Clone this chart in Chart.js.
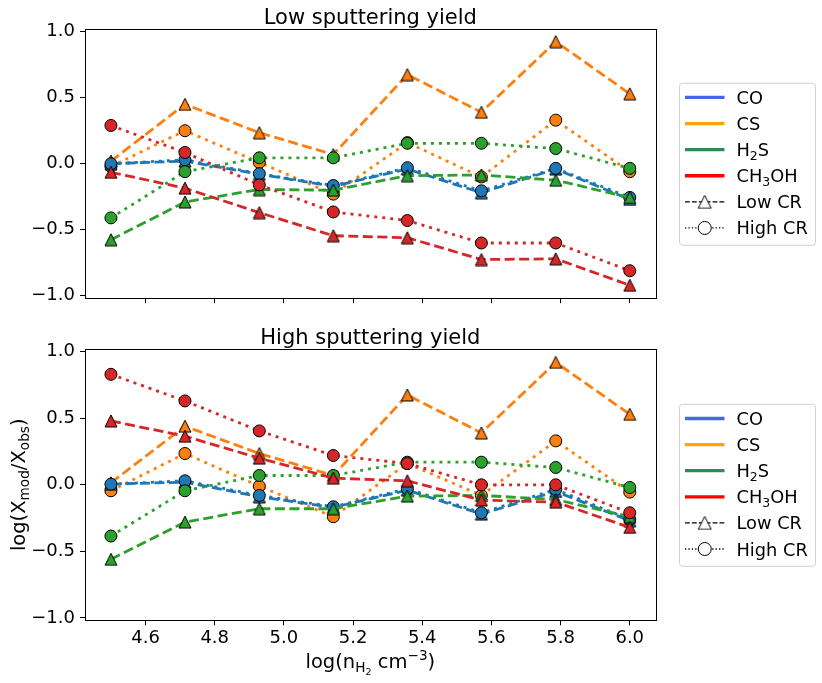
<!DOCTYPE html>
<html>
<head>
<meta charset="utf-8">
<script src="https://cdn.jsdelivr.net/npm/chart.js@4.4.0/dist/chart.umd.min.js"></script>
<style>
  body { margin: 0; background: #fff; }
  #top { position: absolute; left: 0; top: 0; width: 822px; height: 314px; }
  #bot { position: absolute; left: 0; top: 314px; width: 822px; height: 369px; }
</style>
</head>
<body>
<div id="top"><canvas id="c1"></canvas></div>
<div id="bot"><canvas id="c2"></canvas></div>
<script>
// log(n_H2 cm^-3) grid
var density = [4.5, 4.714, 4.929, 5.143, 5.357, 5.571, 5.786, 6.0];
var xTicks = [4.6, 4.8, 5.0, 5.2, 5.4, 5.6, 5.8, 6.0];
var yTicks = [-1.0, -0.5, 0.0, 0.5, 1.0];

// Low sputtering yield
var lowSp_CO_lowCR    = [0.0, 0.02, -0.08, -0.17, -0.04, -0.22, -0.04, -0.27];
var lowSp_CO_highCR   = [0.0, 0.03, -0.075, -0.165, -0.03, -0.205, -0.035, -0.255];
var lowSp_CS_lowCR    = [0.02, 0.45, 0.235, 0.07, 0.675, 0.39, 0.925, 0.53];
var lowSp_CS_highCR   = [-0.02, 0.25, 0.01, -0.23, 0.16, -0.10, 0.33, -0.06];
var lowSp_H2S_lowCR   = [-0.575, -0.29, -0.195, -0.2, -0.09, -0.085, -0.125, -0.255];
var lowSp_H2S_highCR  = [-0.41, -0.06, 0.045, 0.045, 0.155, 0.155, 0.115, -0.035];
var lowSp_MeOH_lowCR  = [-0.065, -0.185, -0.37, -0.545, -0.56, -0.725, -0.72, -0.92];
var lowSp_MeOH_highCR = [0.29, 0.085, -0.16, -0.365, -0.43, -0.6, -0.6, -0.81];

// High sputtering yield
var highSp_CO_lowCR    = [0.005, 0.02, -0.09, -0.17, -0.04, -0.22, -0.05, -0.27];
var highSp_CO_highCR   = [0.005, 0.03, -0.08, -0.165, -0.03, -0.21, -0.035, -0.26];
var highSp_CS_lowCR    = [0.015, 0.44, 0.235, 0.07, 0.675, 0.39, 0.92, 0.53];
var highSp_CS_highCR   = [-0.045, 0.235, -0.01, -0.24, 0.16, -0.08, 0.33, -0.055];
var highSp_H2S_lowCR   = [-0.56, -0.28, -0.18, -0.18, -0.085, -0.08, -0.11, -0.24];
var highSp_H2S_highCR  = [-0.385, -0.045, 0.07, 0.07, 0.17, 0.17, 0.13, -0.02];
var highSp_MeOH_lowCR  = [0.48, 0.365, 0.2, 0.05, 0.03, -0.115, -0.13, -0.32];
var highSp_MeOH_highCR = [0.83, 0.63, 0.405, 0.22, 0.16, 0.0, 0.0, -0.21];

var FONT = 'DejaVu Sans';

// plotted in this order (later on top)
var lowSpSeries = [
  ['#ff7f0e', lowSp_CS_lowCR, 'low'],   ['#ff7f0e', lowSp_CS_highCR, 'high'],
  ['#1f77b4', lowSp_CO_lowCR, 'low'],   ['#1f77b4', lowSp_CO_highCR, 'high'],
  ['#2ca02c', lowSp_H2S_lowCR, 'low'],  ['#2ca02c', lowSp_H2S_highCR, 'high'],
  ['#d62728', lowSp_MeOH_lowCR, 'low'], ['#d62728', lowSp_MeOH_highCR, 'high']
];
var highSpSeries = [
  ['#ff7f0e', highSp_CS_lowCR, 'low'],   ['#ff7f0e', highSp_CS_highCR, 'high'],
  ['#1f77b4', highSp_CO_lowCR, 'low'],   ['#1f77b4', highSp_CO_highCR, 'high'],
  ['#2ca02c', highSp_H2S_lowCR, 'low'],  ['#2ca02c', highSp_H2S_highCR, 'high'],
  ['#d62728', highSp_MeOH_lowCR, 'low'], ['#d62728', highSp_MeOH_highCR, 'high']
];

var legendColors = ['#4169e1', '#ffa500', '#2e8b57', '#ff0000'];
var legendLabels = [
  [['CO', 0]],
  [['CS', 0]],
  [['H', 0], ['2', -1], ['S', 0]],
  [['CH', 0], ['3', -1], ['OH', 0]]
];

// matplotlib style triangle marker as an image
function triangleMarker(fill, size) {
  var c = document.createElement('canvas');
  var s = Math.ceil(size + 2);
  c.width = s; c.height = s;
  var g = c.getContext('2d');
  var h = size / 2, m = s / 2;
  g.beginPath();
  g.moveTo(m, m - h);
  g.lineTo(m - h, m + h);
  g.lineTo(m + h, m + h);
  g.closePath();
  g.fillStyle = fill; g.fill();
  g.lineWidth = 1; g.strokeStyle = '#000'; g.lineJoin = 'miter'; g.stroke();
  return c;
}

function buildDatasets(series) {
  var n = series.length;
  return series.map(function (s, i) {
    var low = s[2] === 'low';
    return {
      data: density.map(function (x, k) { return { x: x, y: s[1][k] }; }),
      borderColor: s[0],
      backgroundColor: s[0],
      borderWidth: 2.8,
      borderDash: low ? [10, 4.5] : [3, 5],
      borderCapStyle: 'butt',
      pointStyle: low ? triangleMarker(s[0], 12) : 'circle',
      pointRadius: 6,
      pointBackgroundColor: s[0],
      pointBorderColor: '#000',
      pointBorderWidth: 1,
      tension: 0,
      fill: false,
      order: n - i
    };
  });
}

function fontFor(level, size) {
  var f = level === 0 ? 1 : (level === -2 ? 0.49 : 0.7);
  return (size * f) + 'px "' + FONT + '"';
}
function shiftFor(level, size) {
  if (level === -1) return 0.2 * size;
  if (level === -2) return 0.36 * size;
  if (level === 1) return -0.42 * size;
  return 0;
}
function richText(ctx, parts, x, y, size, align) {
  var widths = [], total = 0;
  parts.forEach(function (p) {
    ctx.font = fontFor(p[1], size);
    var w = ctx.measureText(p[0]).width;
    widths.push(w); total += w;
  });
  var cx = align === 'center' ? x - total / 2 : x;
  ctx.textAlign = 'left';
  ctx.textBaseline = 'alphabetic';
  parts.forEach(function (p, i) {
    ctx.font = fontFor(p[1], size);
    ctx.fillText(p[0], cx, y + shiftFor(p[1], size));
    cx += widths[i];
  });
}

function drawLegend(ctx, area) {
  var left = 679, width = 136, height = 162;
  var top = (area.top + area.bottom) / 2 - height / 2;
  ctx.save();
  ctx.beginPath();
  if (ctx.roundRect) ctx.roundRect(left + 0.5, top + 0.5, width, height, 3);
  else ctx.rect(left + 0.5, top + 0.5, width, height);
  ctx.fillStyle = 'rgba(255,255,255,0.8)';
  ctx.fill();
  ctx.strokeStyle = '#d0d0d0';
  ctx.lineWidth = 1;
  ctx.stroke();

  var x0 = 685, x1 = 724.5, tx = 736.5;
  for (var i = 0; i < 6; i++) {
    var cy = top + 14.7 + i * 26.1;
    if (i < 4) {
      ctx.beginPath();
      ctx.setLineDash([]);
      ctx.strokeStyle = legendColors[i];
      ctx.lineWidth = 3.3;
      ctx.moveTo(x0, cy); ctx.lineTo(x1, cy);
      ctx.stroke();
      ctx.fillStyle = '#000';
      richText(ctx, legendLabels[i], tx, cy + 6.5, 17.8, 'left');
    } else {
      var lowCR = i === 4;
      ctx.beginPath();
      ctx.setLineDash(lowCR ? [4.8, 2.1] : [1.3, 2.1]);
      ctx.strokeStyle = '#000';
      ctx.lineWidth = 1.3;
      ctx.moveTo(x0, cy); ctx.lineTo(x1, cy);
      ctx.stroke();
      ctx.setLineDash([]);
      var mx = (x0 + x1) / 2;
      if (lowCR) {
        ctx.drawImage(triangleMarker('#fff', 13), mx - 7.5, cy - 7.5);
      } else {
        ctx.beginPath();
        ctx.arc(mx, cy, 6.5, 0, Math.PI * 2);
        ctx.fillStyle = '#fff'; ctx.fill();
        ctx.lineWidth = 1; ctx.strokeStyle = '#000'; ctx.stroke();
      }
      ctx.fillStyle = '#000';
      richText(ctx, [[lowCR ? 'Low CR' : 'High CR', 0]], tx, cy + 6.5, 17.8, 'left');
    }
  }
  ctx.restore();
}

function decorPlugin(title, bottomPanel) {
  return {
    id: 'decor',
    afterDraw: function (chart) {
      var ctx = chart.ctx, a = chart.chartArea;
      ctx.save();
      // full frame
      ctx.strokeStyle = '#000';
      ctx.lineWidth = 1;
      ctx.strokeRect(Math.round(a.left) + 0.5, Math.round(a.top) + 0.5,
                     Math.round(a.right - a.left), Math.round(a.bottom - a.top));
      // title
      ctx.fillStyle = '#000';
      richText(ctx, [[title, 0]], (a.left + a.right) / 2, a.top - 5.5, 21, 'center');
      if (bottomPanel) {
        richText(ctx, [['log(n', 0], ['H', -1], ['2', -2], [' cm', 0], ['\u22123', 1], [')', 0]],
                 (a.left + a.right) / 2, 354, 19.5, 'center');
        ctx.save();
        ctx.translate(25, (a.top + a.bottom) / 2);
        ctx.rotate(-Math.PI / 2);
        richText(ctx, [['log(X', 0], ['mod', -1], ['/X', 0], ['obs', -1], [')', 0]], 0, 0, 19.5, 'center');
        ctx.restore();
      }
      ctx.restore();
      drawLegend(ctx, a);
    }
  };
}

function makeChart(id, title, series, bottomPanel) {
  var ctx = document.getElementById(id).getContext('2d');
  return new Chart(ctx, {
    type: 'line',
    data: { datasets: buildDatasets(series) },
    options: {
      responsive: true,
      maintainAspectRatio: false,
      animation: false,
      layout: { padding: { left: 0, right: 822 - 655.7, top: bottomPanel ? 35.3 : 29.3, bottom: 0 } },
      plugins: { legend: { display: false }, tooltip: { enabled: false } },
      scales: {
        x: {
          type: 'linear',
          min: 4.425,
          max: 6.075,
          afterBuildTicks: function (s) { s.ticks = xTicks.map(function (v) { return { value: v }; }); },
          afterFit: function (s) { s.height = bottomPanel ? 62.7 : 12.6; },
          ticks: {
            display: bottomPanel,
            color: '#000',
            padding: 2,
            maxRotation: 0,
            font: { family: FONT, size: 18 },
            callback: function (v) { return v.toFixed(1); }
          },
          grid: { drawOnChartArea: false, drawTicks: true, tickLength: 5, color: '#000', tickWidth: 1 },
          border: { display: false }
        },
        y: {
          type: 'linear',
          min: -1.018,
          max: 1.018,
          afterBuildTicks: function (s) { s.ticks = yTicks.map(function (v) { return { value: v }; }); },
          afterFit: function (s) { s.width = 85; },
          ticks: {
            color: '#000',
            padding: 5,
            font: { family: FONT, size: 18 },
            callback: function (v) { return (v < 0 ? '\u2212' : '') + Math.abs(v).toFixed(1); }
          },
          grid: { drawOnChartArea: false, drawTicks: true, tickLength: 5, color: '#000', tickWidth: 1 },
          border: { display: false }
        }
      }
    },
    plugins: [decorPlugin(title, bottomPanel)]
  });
}

makeChart('c1', 'Low sputtering yield', lowSpSeries, false);
makeChart('c2', 'High sputtering yield', highSpSeries, true);
</script>
</body>
</html>
